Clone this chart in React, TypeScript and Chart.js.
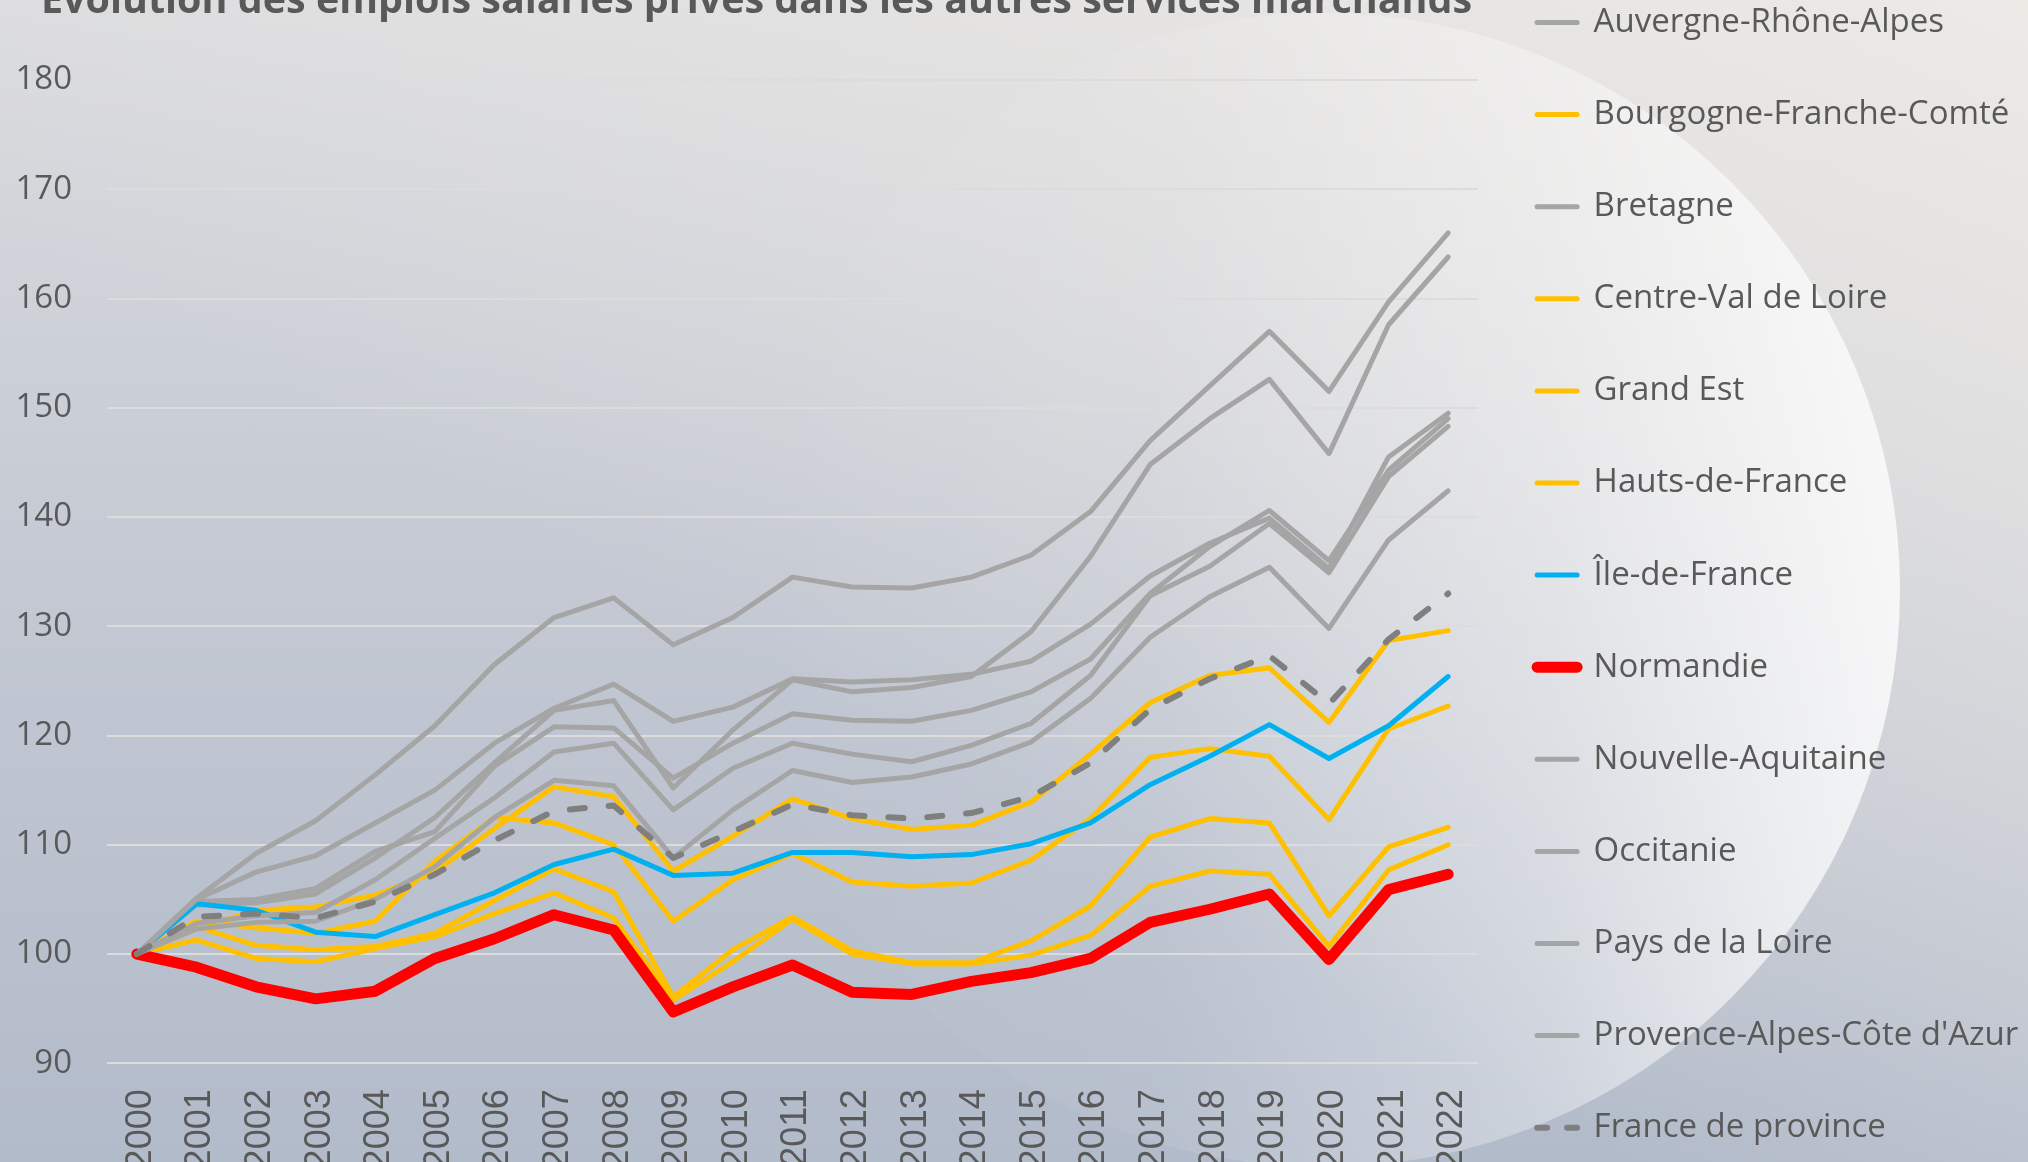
import React, { useEffect, useRef } from 'react';
import { Chart, registerables } from 'chart.js';

Chart.register(...registerables);

// ---------- DATA ----------
const years = ['2000', '2001', '2002', '2003', '2004', '2005', '2006', '2007', '2008', '2009', '2010', '2011', '2012', '2013', '2014', '2015', '2016', '2017', '2018', '2019', '2020', '2021', '2022'];

const auvergneRhoneAlpes = [100, 104.5, 104.7, 105.5, 108.8, 112.5, 117.5, 122.3, 123.2, 115.2, 120.5, 125.1, 124.0, 124.4, 125.4, 129.5, 136.4, 144.8, 149.0, 152.6, 145.8, 157.6, 163.8];
const bourgogneFrancheComte = [100, 101.3, 99.6, 99.3, 100.5, 101.6, 103.7, 105.6, 103.3, 95.8, 99.3, 103.2, 100.0, 99.1, 99.1, 99.9, 101.7, 106.2, 107.6, 107.3, 100.7, 107.7, 110.0];
const bretagne = [100, 104.8, 105.0, 106.0, 109.4, 111.2, 117.2, 120.8, 120.7, 116.1, 119.3, 122.0, 121.4, 121.3, 122.3, 124.0, 127.0, 133.0, 137.3, 140.6, 136.0, 144.3, 149.0];
const centreValDeLoire = [100, 102.5, 100.8, 100.4, 100.7, 101.9, 104.9, 107.8, 105.7, 96.1, 100.4, 103.4, 100.3, 99.2, 99.2, 101.2, 104.4, 110.7, 112.4, 112.0, 103.5, 109.8, 111.6];
const grandEst = [100, 103.0, 102.4, 101.9, 103.0, 108.5, 112.5, 112.0, 110.0, 103.0, 106.8, 109.2, 106.6, 106.2, 106.5, 108.6, 112.4, 118.0, 118.8, 118.1, 112.3, 120.6, 122.7];
const hautsDeFrance = [100, 102.3, 104.0, 104.3, 105.4, 107.5, 111.5, 115.3, 114.4, 107.6, 110.8, 114.2, 112.4, 111.4, 111.8, 113.9, 118.3, 123.0, 125.5, 126.2, 121.2, 128.7, 129.6];
const ileDeFrance = [100, 104.6, 104.0, 102.0, 101.6, 103.6, 105.6, 108.2, 109.6, 107.2, 107.4, 109.3, 109.3, 108.9, 109.1, 110.1, 112.0, 115.5, 118.1, 121.0, 117.9, 120.9, 125.4];
const normandie = [100, 98.8, 97.0, 95.9, 96.6, 99.6, 101.4, 103.6, 102.2, 94.7, 97.0, 99.0, 96.5, 96.3, 97.5, 98.3, 99.6, 102.9, 104.1, 105.5, 99.5, 105.9, 107.3];
const nouvelleAquitaine = [100, 102.8, 103.5, 103.8, 106.8, 110.6, 114.3, 118.5, 119.3, 113.2, 117.0, 119.3, 118.3, 117.6, 119.1, 121.1, 125.5, 132.8, 135.5, 139.4, 134.9, 143.7, 148.3];
const occitanie = [100, 105.1, 109.2, 112.2, 116.4, 120.9, 126.5, 130.8, 132.6, 128.3, 130.8, 134.5, 133.6, 133.5, 134.5, 136.5, 140.5, 147.0, 152.0, 157.0, 151.5, 159.7, 166.0];
const paysDeLaLoire = [100, 105.0, 107.5, 109.0, 112.0, 115.0, 119.3, 122.5, 124.7, 121.3, 122.6, 125.2, 124.9, 125.1, 125.6, 126.8, 130.2, 134.6, 137.6, 139.9, 135.3, 145.5, 149.5];
const provenceAlpesCoteDAzur = [100, 102.3, 102.9, 103.0, 105.0, 108.0, 112.5, 115.9, 115.4, 108.8, 113.2, 116.8, 115.7, 116.2, 117.4, 119.4, 123.4, 129.0, 132.7, 135.4, 129.8, 137.9, 142.4];
const franceDeProvince = [100, 103.4, 103.7, 103.3, 104.8, 107.3, 110.4, 113.1, 113.6, 108.8, 111.2, 113.7, 112.7, 112.4, 112.9, 114.4, 117.5, 122.4, 125.2, 127.3, 122.9, 128.8, 133.0];

const yMin = 90;
const yMax = 180;
const yStep = 10;

const titleText = 'Évolution des emplois salariés privés dans les autres services marchands';

// ---------- STYLES ----------
const GRAY = '#A5A5A5';
const ORANGE = '#FFC000';
const BLUE = '#00B0F0';
const RED = '#FF0000';
const DARK = '#7F7F7F';
const TEXT = '#595959';

const seriesDefs = [
  { label: 'Auvergne-Rhône-Alpes', data: auvergneRhoneAlpes, color: GRAY, width: 5 },
  { label: 'Bourgogne-Franche-Comté', data: bourgogneFrancheComte, color: ORANGE, width: 5 },
  { label: 'Bretagne', data: bretagne, color: GRAY, width: 5 },
  { label: 'Centre-Val de Loire', data: centreValDeLoire, color: ORANGE, width: 5 },
  { label: 'Grand Est', data: grandEst, color: ORANGE, width: 5 },
  { label: 'Hauts-de-France', data: hautsDeFrance, color: ORANGE, width: 5 },
  { label: 'Île-de-France', data: ileDeFrance, color: BLUE, width: 5 },
  { label: 'Normandie', data: normandie, color: RED, width: 11 },
  { label: 'Nouvelle-Aquitaine', data: nouvelleAquitaine, color: GRAY, width: 5 },
  { label: 'Occitanie', data: occitanie, color: GRAY, width: 5 },
  { label: 'Pays de la Loire', data: paysDeLaLoire, color: GRAY, width: 5 },
  { label: "Provence-Alpes-Côte d'Azur", data: provenceAlpesCoteDAzur, color: GRAY, width: 5 },
  { label: 'France de province', data: franceDeProvince, color: DARK, width: 6, dash: [15, 24] },
];

const CANVAS_W = 2028;
const CANVAS_H = 1300;
const CANVAS_TOP = -70;
const PLOT_RIGHT = 1478;

const titleShift = {
  id: 'titleShift',
  afterLayout(chart: any) {
    const t = chart.titleBlock;
    if (t) {
      t.left = 41;
      t.right = 1472;
      t.width = 1431;
    }
  },
};

export default function App() {
  const ref = useRef<HTMLCanvasElement | null>(null);

  useEffect(() => {
    document.body.style.margin = '0';
    const n = seriesDefs.length;
    const chart: any = new Chart(ref.current as HTMLCanvasElement, {
      type: 'line',
      data: {
        labels: years,
        datasets: seriesDefs.map((s, i) => ({
          label: s.label,
          data: s.data,
          borderColor: s.color,
          backgroundColor: s.color,
          borderWidth: s.width,
          borderDash: (s as any).dash || [],
          borderCapStyle: 'round',
          borderJoinStyle: 'round',
          pointRadius: 0,
          pointHoverRadius: 0,
          pointHitRadius: 0,
          pointStyle: 'line',
          fill: false,
          tension: 0,
          order: n - i,
        })),
      },
      options: {
        responsive: false,
        animation: false,
        events: [],
        layout: { padding: { top: 16.9, right: 20, bottom: 5, left: 0 } },
        scales: {
          x: {
            type: 'category',
            offset: true,
            grid: { display: false, drawTicks: false },
            border: { display: false },
            ticks: {
              color: TEXT,
              font: { family: "'Liberation Sans', Arial, sans-serif", size: 36 },
              minRotation: 90,
              maxRotation: 90,
              padding: 26,
              labelOffset: 4,
              autoSkip: false,
            },
            afterFit: (scale: any) => {
              scale.height = 161.7;
            },
          },
          y: {
            min: yMin,
            max: yMax,
            grid: { color: '#dcdcdc', lineWidth: 2, drawTicks: false },
            border: { display: false },
            ticks: {
              stepSize: yStep,
              color: TEXT,
              font: { family: "'Open Sans', sans-serif", size: 33 },
              padding: 35,
            },
            afterFit: (scale: any) => {
              scale.width = 107;
            },
          },
        },
        plugins: {
          tooltip: { enabled: false },
          title: {
            display: true,
            text: titleText,
            position: 'top',
            fullSize: false,
            align: 'center',
            color: TEXT,
            font: { family: "'Open Sans', sans-serif", size: 40, weight: 'bold', lineHeight: 1.2 },
            padding: { top: 30.7, bottom: 54.4 },
          },
          legend: {
            position: 'right',
            align: 'start',
            maxWidth: 700,
            labels: {
              usePointStyle: true,
              pointStyleWidth: 40,
              padding: 59.1,
              color: TEXT,
              font: { family: "'Open Sans', sans-serif", size: 33 },
              generateLabels: (c: any) => {
                const base = (Chart.defaults.plugins.legend.labels as any).generateLabels(c);
                return base
                  .map((item: any) => {
                    const ds: any = c.data.datasets[item.datasetIndex];
                    return {
                      ...item,
                      strokeStyle: ds.borderColor,
                      fillStyle: ds.borderColor,
                      lineWidth: ds.borderWidth,
                      lineDash: ds.borderDash && ds.borderDash.length ? [10, 20] : [],
                      lineCap: 'round',
                      pointStyle: 'line',
                    };
                  })
                  .sort((a: any, b: any) => a.datasetIndex - b.datasetIndex);
              },
            },
          },
        },
      },
      plugins: [titleShift],
    } as any);

    // keep the plot's right edge where the reference has it
    const dx = chart.chartArea.right - PLOT_RIGHT;
    if (Math.abs(dx) > 0.3) {
      const pad = chart.options.layout.padding;
      chart.options.layout.padding = { top: pad.top, left: pad.left, bottom: pad.bottom, right: pad.right + dx };
      chart.update();
    }
    return () => chart.destroy();
  }, []);

  const bg =
    'linear-gradient(to bottom left, rgba(237,234,230,0.95) 0%, rgba(237,234,230,0) 60%), ' +
    'linear-gradient(to bottom, #dadbde 0%, #c4c9d3 50%, #b2bbca 100%)';

  return (
    <div
      style={{
        position: 'fixed',
        left: 0,
        top: 0,
        width: 2028,
        height: 1162,
        overflow: 'hidden',
        background: bg,
      }}
    >
      <div
        style={{
          position: 'absolute',
          left: 1323 - 577,
          top: 590 - 577,
          width: 1154,
          height: 1154,
          borderRadius: '50%',
          background:
            'linear-gradient(to right, rgba(255,255,255,0) 0%, rgba(255,255,255,0.06) 35%, rgba(255,255,255,0.35) 70%, rgba(255,255,255,0.78) 100%)',
        }}
      />
      <canvas
        ref={ref}
        width={CANVAS_W}
        height={CANVAS_H}
        style={{ position: 'absolute', left: 0, top: CANVAS_TOP, width: CANVAS_W, height: CANVAS_H }}
      />
    </div>
  );
}
